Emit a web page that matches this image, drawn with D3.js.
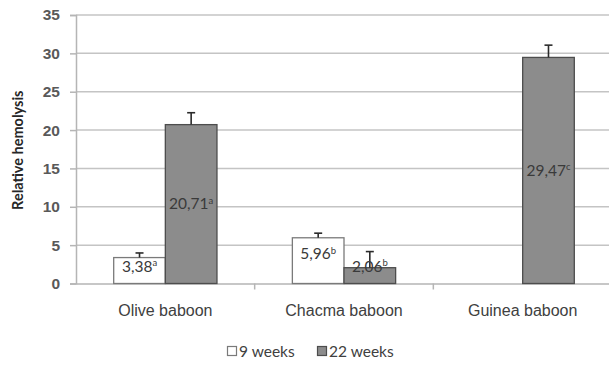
<!DOCTYPE html>
<html>
<head>
<meta charset="utf-8">
<script src="https://cdn.jsdelivr.net/npm/d3@7"></script>
<style>
  html, body { margin: 0; padding: 0; background: #fff; }
  svg { display: block; font-family: Lato, "Open Sans", sans-serif; }
</style>
</head>
<body>
<svg id="chart" width="609" height="366"></svg>
<script>
// Relative hemolysis by baboon species at two ages
const categories = ["Olive baboon", "Chacma baboon", "Guinea baboon"];
const seriesNames = ["9 weeks", "22 weeks"];
const weeks9 = [3.38, 5.96, null];
const weeks22 = [20.71, 2.06, 29.47];
const err9 = [0.6, 0.6, null];
const err22 = [1.55, 2.1, 1.6];
const sup9 = ["a", "b", null];
const sup22 = ["a", "b", "c"];
const yTicks = [0, 5, 10, 15, 20, 25, 30, 35];

const svg = d3.select("#chart");
const margin = { left: 76, right: -3, top: 15, bottom: 82 };
const W = 609, H = 366;

const x = d3.scaleBand().domain(categories)
  .range([margin.left, W - margin.right]).paddingInner(0).paddingOuter(0);
const xs = d3.scaleBand().domain(seriesNames)
  .range([0, x.bandwidth()]).paddingInner(0).paddingOuter(0.73);
const y = d3.scaleLinear().domain([0, 35]).range([H - margin.bottom - 0.5, margin.top]);

// gridlines
svg.append("g")
  .selectAll("line").data(yTicks.slice(1)).join("line")
  .attr("x1", margin.left).attr("x2", W)
  .attr("y1", d => y(d)).attr("y2", d => y(d))
  .attr("stroke", "#c4c4c4").attr("stroke-width", 1.5);

// y axis
const yAxis = svg.append("g").attr("transform", `translate(${margin.left},0)`)
  .call(d3.axisLeft(y).tickValues(yTicks).tickSize(6).tickPadding(10));
yAxis.select(".domain").attr("stroke", "#b5b5b5").attr("stroke-width", 1.5);
yAxis.selectAll(".tick line").attr("stroke", "#b5b5b5").attr("stroke-width", 1.5);
yAxis.selectAll("text").attr("fill", "#595959").attr("font-size", 15.5).attr("font-weight", 700);

// x axis
const xAxis = svg.append("g").attr("transform", `translate(0,${y(0)})`)
  .call(d3.axisBottom(x).tickSize(0).tickPadding(21));
xAxis.select(".domain").attr("stroke", "#b5b5b5").attr("stroke-width", 1.5);
xAxis.selectAll("text").attr("fill", "#404040").attr("font-size", 16);
// category separator ticks
svg.append("g").selectAll("line").data(categories.slice(1)).join("line")
  .attr("x1", d => x(d)).attr("x2", d => x(d))
  .attr("y1", y(0)).attr("y2", y(0) + 6)
  .attr("stroke", "#b5b5b5").attr("stroke-width", 1.5);

// y axis title
svg.append("text")
  .attr("transform", `translate(18,${(y(0) + y(35)) / 2 + 1}) rotate(-90)`)
  .attr("text-anchor", "middle").attr("dy", "0.35em")
  .attr("font-size", 14.5).attr("font-weight", 700).attr("fill", "#262626")
  .text("Relative hemolysis");

const rows = [];
categories.forEach((c, i) => {
  rows.push({ cat: c, s: seriesNames[0], v: weeks9[i], e: err9[i], sup: sup9[i] });
  rows.push({ cat: c, s: seriesNames[1], v: weeks22[i], e: err22[i], sup: sup22[i] });
});
const data = rows.filter(d => d.v != null);
const fills = { "9 weeks": "#ffffff", "22 weeks": "#8c8c8c" };
const strokes = { "9 weeks": "#7a7a7a", "22 weeks": "#4d4d4d" };

// bars
svg.append("g").selectAll("rect").data(data).join("rect")
  .attr("x", d => x(d.cat) + xs(d.s))
  .attr("y", d => y(d.v))
  .attr("width", xs.bandwidth())
  .attr("height", d => y(0) - y(d.v))
  .attr("fill", d => fills[d.s])
  .attr("stroke", d => strokes[d.s]).attr("stroke-width", 1.3);

// error bars (upper)
const eb = svg.append("g").attr("stroke", "#2b2b2b").attr("stroke-width", 1.6);
data.forEach(d => {
  const cx = x(d.cat) + xs(d.s) + xs.bandwidth() / 2;
  eb.append("line").attr("x1", cx).attr("x2", cx).attr("y1", y(d.v)).attr("y2", y(d.v + d.e));
  eb.append("line").attr("x1", cx - 4).attr("x2", cx + 4).attr("y1", y(d.v + d.e)).attr("y2", y(d.v + d.e));
});

// value labels
const fmt = v => v.toFixed(2).replace(".", ",");
const labels = svg.append("g");
data.forEach(d => {
  const cx = x(d.cat) + xs(d.s) + xs.bandwidth() / 2;
  const h = y(0) - y(d.v);
  let cy = h < 60 ? Math.min(y(d.v) + 16, y(0) - 17) : (y(0) + y(d.v)) / 2;
  const t = labels.append("text")
    .attr("x", cx).attr("y", cy).attr("dy", "0.35em")
    .attr("text-anchor", "middle")
    .attr("font-size", 15.5).attr("fill", "#3a3a3a");
  t.append("tspan").text(fmt(d.v));
  t.append("tspan").attr("font-size", 9.5).attr("dy", "-0.6em").text(d.sup);
});

// legend
const legend = svg.append("g").attr("transform", "translate(227,352)");
const items = [
  { name: seriesNames[0], x: 0 },
  { name: seriesNames[1], x: 90 }
];
items.forEach(it => {
  const g = legend.append("g").attr("transform", `translate(${it.x},0)`);
  g.append("rect").attr("x", 0.5).attr("y", -5.5).attr("width", 9).attr("height", 9)
    .attr("fill", fills[it.name]).attr("stroke", strokes[it.name]).attr("stroke-width", 1.2);
  g.append("text").attr("x", 12).attr("y", 0).attr("dy", "0.35em")
    .attr("font-size", 15.5).attr("fill", "#404040").text(it.name);
});
</script>
</body>
</html>
